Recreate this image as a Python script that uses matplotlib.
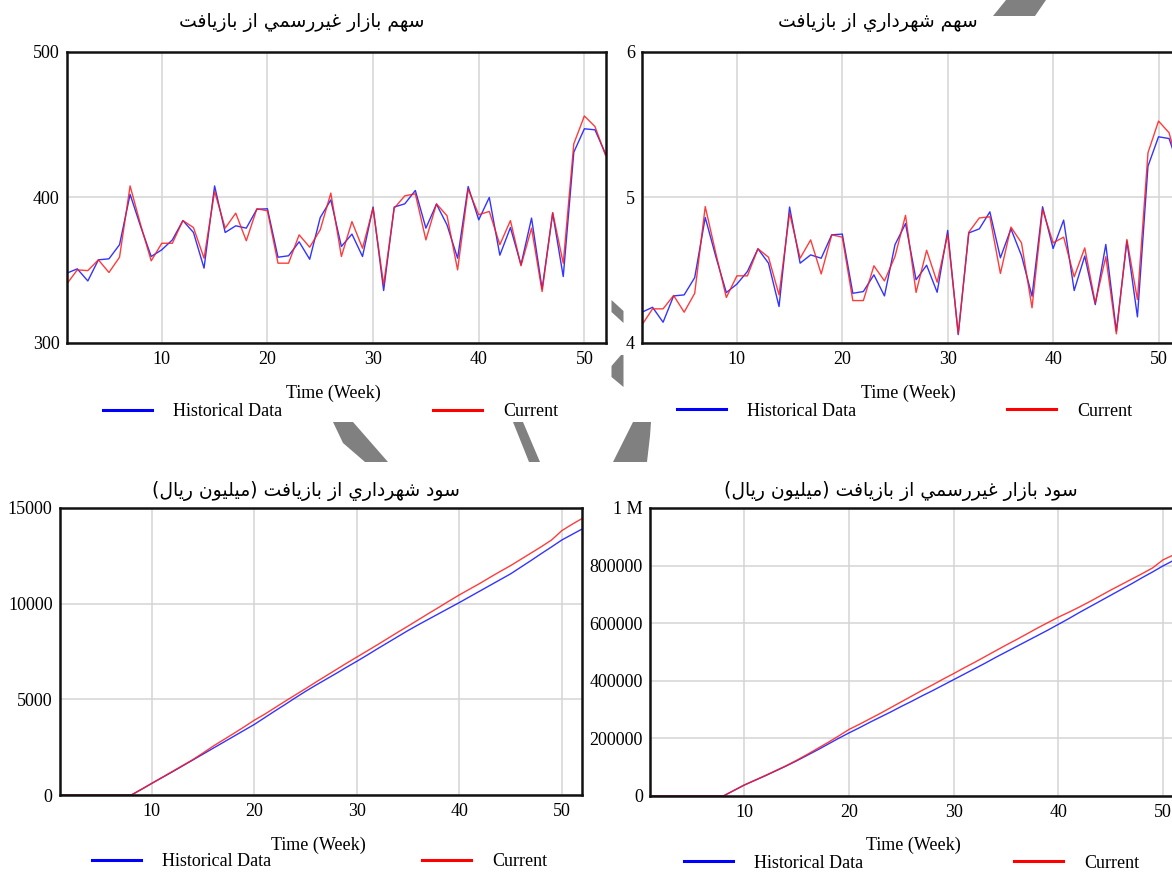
import matplotlib
matplotlib.use("Agg")
import matplotlib.pyplot as plt
from matplotlib.lines import Line2D
from matplotlib.patches import Polygon
from matplotlib.ticker import FuncFormatter

# ---------------- data ----------------
weeks = list(range(1, 53))

informal_share_hist = [347.7, 350.7, 342.4, 356.9, 357.6, 367.3, 401.9, 379.8, 359.2, 363.8,
                       370.6, 383.9, 375.7, 351.2, 407.7, 375.7, 380.3, 378.7, 391.7, 392.0,
                       358.7, 359.7, 369.3, 357.3, 386.0, 398.1, 366.1, 374.6, 359.2, 393.2,
                       335.8, 393.2, 395.4, 404.6, 378.7, 395.2, 380.9, 358.0, 407.3, 384.4,
                       399.8, 360.1, 379.1, 353.5, 385.6, 336.9, 389.0, 345.4, 430.9, 447.0,
                       446.3, 429.9]
informal_share_curr = [340.2, 350.0, 349.5, 356.9, 348.2, 358.7, 407.7, 380.9, 356.2, 368.3,
                       368.3, 383.9, 379.1, 358.0, 403.9, 378.7, 389.0, 370.0, 392.0, 390.6,
                       354.6, 354.6, 374.1, 365.6, 377.6, 402.8, 359.2, 383.2, 364.9, 392.4,
                       339.7, 392.4, 400.9, 402.3, 370.6, 395.4, 387.2, 350.0, 405.5, 387.9,
                       390.2, 367.3, 383.9, 352.8, 378.7, 335.1, 389.4, 354.6, 436.7, 455.8,
                       448.6, 428.7]

muni_share_hist = [4.209, 4.243, 4.140, 4.321, 4.328, 4.447, 4.860, 4.592, 4.344, 4.402,
                   4.489, 4.645, 4.546, 4.248, 4.932, 4.546, 4.603, 4.580, 4.741, 4.746,
                   4.339, 4.351, 4.466, 4.321, 4.673, 4.818, 4.432, 4.532, 4.346, 4.771,
                   4.055, 4.754, 4.782, 4.899, 4.583, 4.782, 4.598, 4.319, 4.934, 4.647,
                   4.842, 4.358, 4.595, 4.261, 4.675, 4.078, 4.698, 4.177, 5.213, 5.415,
                   5.403, 5.190]
muni_share_curr = [4.122, 4.232, 4.232, 4.324, 4.209, 4.339, 4.935, 4.615, 4.310, 4.459,
                   4.459, 4.645, 4.587, 4.328, 4.890, 4.580, 4.706, 4.472, 4.741, 4.725,
                   4.289, 4.289, 4.528, 4.424, 4.592, 4.875, 4.345, 4.635, 4.415, 4.743,
                   4.060, 4.759, 4.857, 4.865, 4.475, 4.794, 4.686, 4.239, 4.915, 4.686,
                   4.725, 4.452, 4.651, 4.273, 4.590, 4.060, 4.709, 4.296, 5.305, 5.523,
                   5.443, 5.170]

muni_profit_hist = [0, 0, 0, 0, 0, 0, 0, 0, 300, 610,
                    910, 1210, 1520, 1830, 2140, 2450, 2760, 3070, 3380, 3690,
                    4040, 4390, 4730, 5080, 5420, 5740, 6050, 6360, 6680, 6990,
                    7310, 7640, 7960, 8280, 8600, 8900, 9190, 9480, 9770, 10060,
                    10360, 10660, 10960, 11260, 11560, 11910, 12260, 12620, 12970, 13330,
                    13620, 13910]
muni_profit_curr = [0, 0, 0, 0, 0, 0, 0, 0, 300, 610,
                    920, 1230, 1540, 1850, 2200, 2560, 2890, 3220, 3560, 3910,
                    4220, 4560, 4900, 5230, 5560, 5900, 6230, 6560, 6890, 7210,
                    7530, 7850, 8180, 8510, 8830, 9160, 9490, 9810, 10140, 10460,
                    10760, 11060, 11380, 11690, 11990, 12320, 12650, 12980, 13330, 13820,
                    14150, 14460]

informal_profit_hist = [0, 0, 0, 0, 0, 0, 0, 0, 19000, 38000,
                        54000, 70000, 87000, 104000, 122000, 141000, 160000, 180000, 200000, 219000,
                        237000, 256000, 274000, 292000, 311000, 329000, 348000, 366000, 385000, 404000,
                        423000, 442000, 461000, 481000, 500000, 519000, 538000, 557000, 576000, 596000,
                        616000, 637000, 657000, 677000, 697000, 717000, 737000, 758000, 778000, 799000,
                        818000, 837000]
informal_profit_curr = [0, 0, 0, 0, 0, 0, 0, 0, 19000, 38000,
                        54500, 71000, 88000, 105000, 124000, 144000, 165000, 186000, 208000, 231000,
                        249000, 268000, 287000, 307000, 327000, 347000, 367000, 386000, 406000, 425000,
                        445000, 464000, 484000, 504000, 524000, 543000, 563000, 583000, 602000, 621000,
                        638000, 656000, 675000, 695000, 715000, 734000, 753000, 772000, 792000, 820000,
                        837000, 855000]

titles = ["سهم بازار غيررسمي از بازيافت",
          "سهم شهرداري از بازيافت",
          "سود شهرداري از بازيافت (ميليون ريال)",
          "سود بازار غيررسمي از بازيافت (ميليون ريال)"]
x_label = "Time (Week)"
series_labels = ["Historical Data", "Current"]
x_ticks = [10, 20, 30, 40, 50]

# ---------------- simple Arabic shaping (presentation forms + visual order) ----------------
FORMS = {
    'ا': (0xFE8D, 0xFE8E), 'د': (0xFEA9, 0xFEAA), 'ر': (0xFEAD, 0xFEAE),
    'ز': (0xFEAF, 0xFEB0), 'و': (0xFEED, 0xFEEE),
    'ب': (0xFE8F, 0xFE90, 0xFE91, 0xFE92), 'ت': (0xFE95, 0xFE96, 0xFE97, 0xFE98),
    'س': (0xFEB1, 0xFEB2, 0xFEB3, 0xFEB4), 'ش': (0xFEB5, 0xFEB6, 0xFEB7, 0xFEB8),
    'غ': (0xFECD, 0xFECE, 0xFECF, 0xFED0), 'ف': (0xFED1, 0xFED2, 0xFED3, 0xFED4),
    'ل': (0xFEDD, 0xFEDE, 0xFEDF, 0xFEE0), 'م': (0xFEE1, 0xFEE2, 0xFEE3, 0xFEE4),
    'ن': (0xFEE5, 0xFEE6, 0xFEE7, 0xFEE8), 'ه': (0xFEE9, 0xFEEA, 0xFEEB, 0xFEEC),
    'ي': (0xFEF1, 0xFEF2, 0xFEF3, 0xFEF4),
}


def shape_rtl(s):
    out = []
    for i, c in enumerate(s):
        if c not in FORMS:
            out.append(c)
            continue
        f = FORMS[c]
        prev = s[i - 1] if i > 0 else None
        nxt = s[i + 1] if i + 1 < len(s) else None
        jp = prev in FORMS and len(FORMS[prev]) == 4
        jn = len(f) == 4 and nxt in FORMS
        if jp and jn:
            o = f[3]
        elif jp:
            o = f[1]
        elif jn:
            o = f[2]
        else:
            o = f[0]
        out.append(chr(o))
    vis = ''.join(out)[::-1]
    return vis.translate(str.maketrans('()', ')('))


# ---------------- figure ----------------
W, H = 1172, 873
fig = plt.figure(figsize=(W / 100, H / 100), dpi=100)
fig.patch.set_facecolor('white')

SERIF = 'Liberation Serif'
FS = 13
BLUE = '#1010ff'
RED = '#ff1a1a'


def px_axes(left, top, right, bottom):
    return fig.add_axes([left / W, 1 - bottom / H, (right - left) / W, (bottom - top) / H])


# decorative gray remnants of the background arrow
bg = fig.add_axes([0, 0, 1, 1], zorder=-10)
bg.set_xlim(0, W)
bg.set_ylim(H, 0)
bg.axis('off')
deco = [
    [(333, 422), (353, 422), (388, 462), (365, 462), (343, 443)],
    [(513, 422), (523, 422), (540, 462), (529, 462)],
    [(633, 422), (651, 422), (650, 436), (647, 462), (613, 462), (621, 446), (628, 432)],
    [(621, 355), (623.5, 355), (623.5, 387), (611.5, 377), (611.5, 366)],
    [(611.5, 300), (623.5, 311), (623.5, 323), (611.5, 312)],
    [(993, 16), (1006, 0), (1046, 0), (1035, 16)],
]
for poly in deco:
    bg.add_patch(Polygon(poly, closed=True, facecolor='#808080', edgecolor='none'))

panels = [
    dict(box=(66.7, 51.7, 605.5, 342.6), ylim=(300, 500), yticks=[300, 400, 500],
         hist=informal_share_hist, curr=informal_share_curr, title_xy=(302, 22),
         xlab_xy=(333, 393), leg_xy=(103, 412)),
    dict(box=(642.0, 51.7, 1179.6, 342.6), ylim=(4, 6), yticks=[4, 5, 6],
         hist=muni_share_hist, curr=muni_share_curr, title_xy=(878, 22),
         xlab_xy=(908, 393), leg_xy=(677, 411)),
    dict(box=(59.6, 508, 582.4, 795), ylim=(0, 15000), yticks=[0, 5000, 10000, 15000],
         hist=muni_profit_hist, curr=muni_profit_curr, title_xy=(306, 491),
         xlab_xy=(318, 845), leg_xy=(92, 862)),
    dict(box=(650.0, 508, 1184.0, 796), ylim=(0, 1000000),
         yticks=[0, 200000, 400000, 600000, 800000, 1000000],
         hist=informal_profit_hist, curr=informal_profit_curr, title_xy=(901, 491),
         xlab_xy=(913, 845), leg_xy=(684, 863)),
]


def yfmt(v, pos):
    if v >= 1000000:
        return '1 M'
    if float(v).is_integer():
        return f'{int(v)}'
    return f'{v:g}'


for i, p in enumerate(panels):
    ax = px_axes(*p['box'])
    ax.set_facecolor('white')
    ax.plot(weeks, p['hist'], color=BLUE, lw=1.0, alpha=0.85, zorder=3)
    ax.plot(weeks, p['curr'], color=RED, lw=1.0, alpha=0.85, zorder=3)
    ax.set_xlim(1, 52)
    ax.set_ylim(*p['ylim'])
    ax.set_xticks(x_ticks)
    ax.set_yticks(p['yticks'])
    ax.yaxis.set_major_formatter(FuncFormatter(yfmt))
    ax.grid(True, color='#d4d4d4', lw=1.1, zorder=0)
    ax.set_axisbelow(True)
    for s in ax.spines.values():
        s.set_linewidth(1.8)
        s.set_color('#111111')
        s.set_zorder(4)
    ax.tick_params(length=0, labelsize=FS, pad=5)
    ax.tick_params(axis='x', pad=6)
    for lab in ax.get_xticklabels() + ax.get_yticklabels():
        lab.set_fontfamily(SERIF)

    tx, ty = p['title_xy']
    fig.text(tx / W, 1 - ty / H, shape_rtl(titles[i]), ha='center', va='center',
             fontsize=13.5, family=['DejaVu Sans'])
    lx, ly = p['xlab_xy']
    fig.text(lx / W, 1 - ly / H, x_label, ha='center', va='center', fontsize=FS, family=SERIF)

    handles = [Line2D([], [], color='#0000ff', lw=2.2), Line2D([], [], color='#ff0000', lw=2.2)]
    gx, gy = p['leg_xy']
    ax.legend(handles, series_labels, loc='center left', bbox_to_anchor=(gx / W, 1 - gy / H),
              bbox_transform=fig.transFigure, ncol=2, frameon=False, borderpad=0,
              borderaxespad=0, handlelength=2.7, handletextpad=1.15, columnspacing=8.4,
              prop={'family': SERIF, 'size': FS})

fig.savefig('out.png', dpi=100, facecolor='white')
